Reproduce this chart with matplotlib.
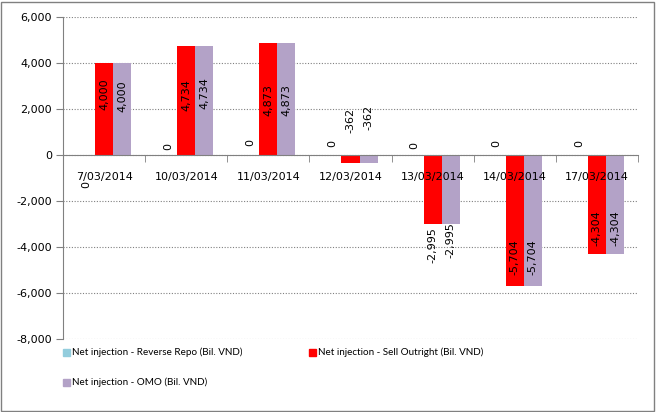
import matplotlib
matplotlib.use("Agg")
import matplotlib.pyplot as plt
from matplotlib.patches import Rectangle
import matplotlib.transforms as mtransforms
import numpy as np

categories = ["7/03/2014", "10/03/2014", "11/03/2014", "12/03/2014",
              "13/03/2014", "14/03/2014", "17/03/2014"]
reverse_repo = [0, 0, 0, 0, 0, 0, 0]
sell_outright = [4000, 4734, 4873, -362, -2995, -5704, -4304]
omo = [4000, 4734, 4873, -362, -2995, -5704, -4304]
series_names = ["Net injection - Reverse Repo (Bil. VND)",
                "Net injection - Sell Outright (Bil. VND)",
                "Net injection - OMO (Bil. VND)"]
y_ticks = [-8000, -6000, -4000, -2000, 0, 2000, 4000, 6000]

colors = ["#93CDDD", "#FF0000", "#B3A2C7"]

plt.rcParams['font.family'] = ['DejaVu Sans']
fig = plt.figure(figsize=(6.56, 4.12), dpi=100)
ax = fig.add_axes([63/656, 1-339/412, (638-63)/656, (339-17)/412])

x = np.arange(len(categories))
w = 0.22
series = [reverse_repo, sell_outright, omo]
bars = []
for i, (vals, c, n) in enumerate(zip(series, colors, series_names)):
    b = ax.bar(x + (i-1)*w, vals, width=w, color=c, label=n, zorder=2)
    bars.append(b)

# data label positions (label centres, in data units)
rr_lab = [-1300, 350, 565, 520, 430, 520, 480]
so_lab = [2650, 2610, 2390, 1520, -3910, -4435, -3170]
omo_lab = [2565, 2700, 2390, 1650, -3700, -4435, -3170]
for i, (vals, labs) in enumerate(zip(series, [rr_lab, so_lab, omo_lab])):
    for xi, v, ly in zip(x, vals, labs):
        ax.text(xi + (i-1)*w, ly, f"{v:,}", rotation=90, ha='center', va='center',
                fontsize=8, color='black', zorder=5)

ax.set_xlim(-0.5, len(categories)-0.5)
ax.set_ylim(-8000, 6000)
ax.set_yticks(y_ticks)
ax.set_yticklabels([f"{t:,}" for t in y_ticks], fontsize=8)
ax.yaxis.grid(True, linestyle=(0, (1, 1.5)), color='#808080', linewidth=0.8, zorder=0)
ax.set_axisbelow(True)

ax.spines['top'].set_visible(False)
ax.spines['right'].set_visible(False)
ax.spines['left'].set_color('#808080')
ax.spines['bottom'].set_color('#808080')
ax.spines['bottom'].set_position(('data', 0))
ax.spines['bottom'].set_zorder(3)
ax.tick_params(axis='y', direction='out', length=5, color='#808080', pad=3)

ax.set_xticks(x)
ax.set_xticklabels([])
ax.tick_params(axis='x', which='major', length=0)
ax.set_xticks(np.arange(-0.5, len(categories)), minor=True)
ax.tick_params(axis='x', which='minor', direction='out', length=5, color='#808080')
# category labels drawn as text so they sit above the bars
trans = mtransforms.offset_copy(ax.transData, fig=fig, x=0, y=-22/100*72, units='points')
for xi, cat in zip(x, categories):
    ax.text(xi, 0, cat, transform=trans, ha='center', va='center', fontsize=8, zorder=6)

# legend drawn entry by entry to match the reference placement
leg_font = {'family': 'Lato', 'size': 7.1}
leg_pos = [(63, 352), (309, 352), (63, 382)]
for k, (px, py) in enumerate(leg_pos):
    fig.patches.append(Rectangle((px/656, 1-(py+3.5)/412), 7/656, 7/412,
                                 transform=fig.transFigure, color=colors[k]))
    fig.text((px+9)/656, 1-py/412, series_names[k], ha='left', va='center',
             fontdict=leg_font)

fig.patches.append(Rectangle((1/656, 1/412), 653/656, 409/412, transform=fig.transFigure,
                             fill=False, edgecolor='#808080', linewidth=1))

fig.savefig("out.png", dpi=100)
